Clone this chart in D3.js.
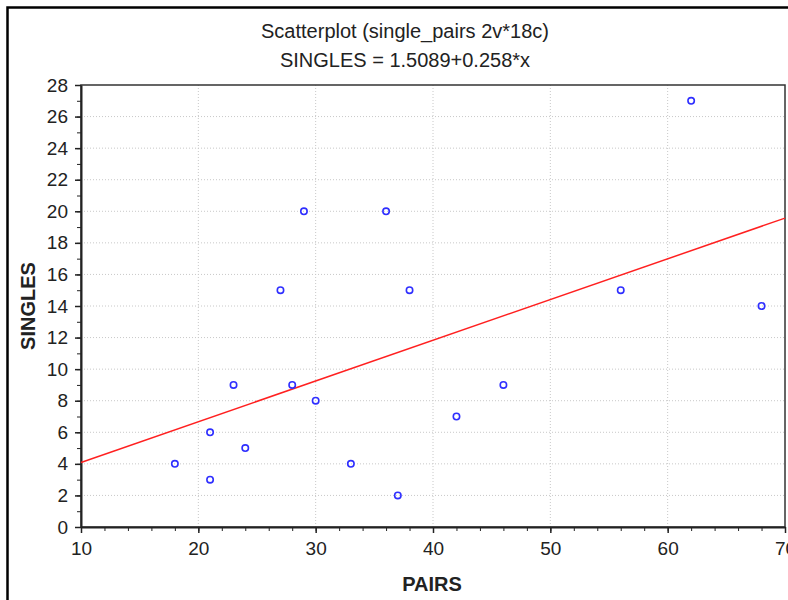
<!DOCTYPE html>
<html>
<head>
<meta charset="utf-8">
<script src="https://cdn.jsdelivr.net/npm/d3@7"></script>
<style>
  body { margin: 0; background: #fff; }
  text { font-family: "Liberation Sans", Arial, sans-serif; }
</style>
</head>
<body>
<svg id="chart"></svg>
<script>
const pairs   = [18, 21, 21, 23, 24, 27, 28, 29, 30, 33, 36, 37, 38, 42, 46, 56, 62, 68];
const singles = [4, 3, 6, 9, 5, 15, 9, 20, 8, 4, 20, 2, 15, 7, 9, 15, 27, 14];
const intercept = 1.5089;
const slope = 0.258;
const xTicks = [10, 20, 30, 40, 50, 60, 70];
const yTicks = [0, 2, 4, 6, 8, 10, 12, 14, 16, 18, 20, 22, 24, 26, 28];

const width = 788;
const height = 600;
const margin = {top: 85, right: 3, bottom: 73, left: 81};

const svg = d3.select("#chart")
  .attr("width", width)
  .attr("height", height);

// outer frame
svg.append("rect")
  .attr("x", 7.5).attr("y", 7.5)
  .attr("width", 800).attr("height", 700)
  .attr("fill", "none")
  .attr("stroke", "#000")
  .attr("stroke-width", 2.5);

const x = d3.scaleLinear().domain([10, 70]).range([margin.left, width - margin.right]);
const y = d3.scaleLinear().domain([0, 28]).range([height - margin.bottom, margin.top]);

// grid
svg.append("g")
  .selectAll("line")
  .data(xTicks.slice(1, -1))
  .join("line")
  .attr("x1", d => x(d)).attr("x2", d => x(d))
  .attr("y1", y(0)).attr("y2", y(28))
  .attr("stroke", "#c8c8c8")
  .attr("stroke-dasharray", "1,2");

svg.append("g")
  .selectAll("line")
  .data(yTicks.slice(1, -1))
  .join("line")
  .attr("x1", x(10)).attr("x2", x(70))
  .attr("y1", d => y(d)).attr("y2", d => y(d))
  .attr("stroke", "#c8c8c8")
  .attr("stroke-dasharray", "1,2");

// frame of plot area
svg.append("rect")
  .attr("x", x(10)).attr("y", y(28))
  .attr("width", x(70) - x(10)).attr("height", y(0) - y(28))
  .attr("fill", "none")
  .attr("stroke", "#333")
  .attr("stroke-width", 1.5);

// minor ticks
svg.append("g")
  .attr("transform", `translate(0,${y(0)})`)
  .call(d3.axisBottom(x).ticks(30).tickSize(4).tickFormat(""))
  .call(g => g.select(".domain").remove())
  .selectAll("line").attr("stroke", "#222");

svg.append("g")
  .attr("transform", `translate(${x(10)},0)`)
  .call(d3.axisLeft(y).ticks(28).tickSize(4).tickFormat(""))
  .call(g => g.select(".domain").remove())
  .selectAll("line").attr("stroke", "#222");

// major axes
const xAxis = svg.append("g")
  .attr("transform", `translate(0,${y(0)})`)
  .call(d3.axisBottom(x).tickValues(xTicks).tickSize(6).tickPadding(9).tickSizeOuter(0));
xAxis.select(".domain").attr("stroke", "#222").attr("stroke-width", 2);
xAxis.selectAll("line").attr("stroke", "#222").attr("stroke-width", 1.5);
xAxis.selectAll("text").attr("font-size", 19).attr("fill", "#222");

const yAxis = svg.append("g")
  .attr("transform", `translate(${x(10)},0)`)
  .call(d3.axisLeft(y).tickValues(yTicks).tickSize(6).tickPadding(7).tickSizeOuter(0));
yAxis.select(".domain").attr("stroke", "#222").attr("stroke-width", 2);
yAxis.selectAll("line").attr("stroke", "#222").attr("stroke-width", 1.5);
yAxis.selectAll("text").attr("font-size", 19).attr("fill", "#222");

// regression line
svg.append("line")
  .attr("x1", x(10)).attr("y1", y(intercept + slope * 10))
  .attr("x2", x(70)).attr("y2", y(intercept + slope * 70))
  .attr("stroke", "#ff2020")
  .attr("stroke-width", 1.5);

// points
svg.append("g")
  .selectAll("circle")
  .data(pairs.map((p, i) => [p, singles[i]]))
  .join("circle")
  .attr("cx", d => x(d[0]))
  .attr("cy", d => y(d[1]))
  .attr("r", 3.2)
  .attr("fill", "none")
  .attr("stroke", "#2f2fff")
  .attr("stroke-width", 1.6);

// titles
svg.append("text")
  .attr("x", 405).attr("y", 38)
  .attr("text-anchor", "middle")
  .attr("font-size", 20)
  .attr("fill", "#222")
  .text("Scatterplot (single_pairs 2v*18c)");

svg.append("text")
  .attr("x", 405).attr("y", 67)
  .attr("text-anchor", "middle")
  .attr("font-size", 20)
  .attr("fill", "#222")
  .text("SINGLES = 1.5089+0.258*x");

svg.append("text")
  .attr("x", 432).attr("y", 591)
  .attr("text-anchor", "middle")
  .attr("font-size", 20)
  .attr("font-weight", "bold")
  .attr("fill", "#222")
  .text("PAIRS");

svg.append("text")
  .attr("transform", `translate(35,${(y(0) + y(28)) / 2}) rotate(-90)`)
  .attr("text-anchor", "middle")
  .attr("font-size", 20)
  .attr("font-weight", "bold")
  .attr("fill", "#222")
  .text("SINGLES");
</script>
</body>
</html>
